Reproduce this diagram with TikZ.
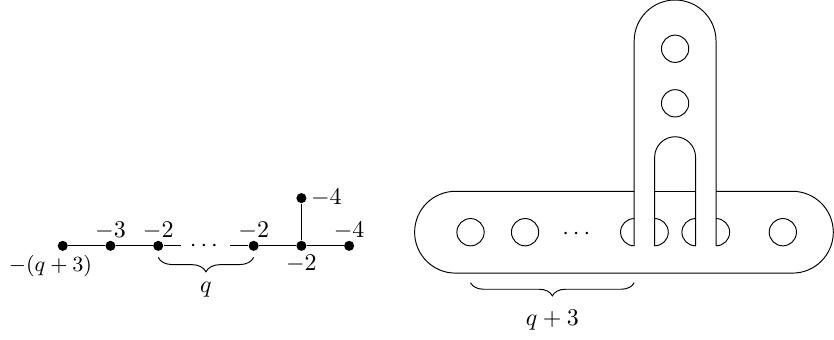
\documentclass[tikz,border=0pt]{standalone}
\usepackage{amsmath,amssymb}
\usetikzlibrary{positioning,decorations.pathreplacing}

\begin{document}
\begin{tikzpicture}[scale=1.0, node distance=0.7cm, on grid,
    vertex/.style={circle, fill, inner sep=0pt, minimum size=4.2pt},
    every label/.append style={inner sep=1.5pt}]
  \useasboundingbox (0,0) rectangle (12.23,4.985);
  % plumbing graph
  \node[vertex, label={[font=\small, xshift=-0.18cm]below:$-(q+3)$}] (n1) at (0.92,1.38) {};
  \node[vertex, label={[yshift=-1.5pt]above:$-3$}, right=of n1] (n2) {};
  \node[vertex, label={[yshift=-1.5pt]above:$-2$}, right=of n2] (n3) {};
  \node[right=of n3] (dots) {$\cdots$};
  \node[vertex, label={[yshift=-1.5pt]above:$-2$}, right=of dots] (n4) {};
  \node[vertex, label=below:$-2$, right=of n4] (n5) {};
  \node[vertex, label={[yshift=-1.5pt]above:$-4$}, right=of n5] (n6) {};
  \node[vertex, label=right:$-4$, above=of n5] (n7) {};
  \draw (n1) -- (n2) -- (n3) -- (dots) -- (n4) -- (n5) -- (n6);
  \draw (n5) -- (n7);
  \draw[decorate, decoration={brace, mirror, amplitude=6pt}]
        ([yshift=-0.17cm]n3.center) -- ([yshift=-0.17cm]n4.center)
        node[midway, below=7pt] {$q$};
  % horizontal handle, top edge broken by the vertical band
  \draw (9.3,2.18) -- (6.68,2.18) arc[start angle=90, end angle=270, radius=0.6]
        -- (11.62,0.98) arc[start angle=-90, end angle=90, radius=0.6] -- (10.5,2.18);
  \draw (9.6,2.18) -- (10.2,2.18);
  % vertical band
  \draw (9.3,1.38) -- (9.3,4.385) arc[start angle=180, end angle=0, radius=0.6] -- (10.5,1.38);
  \draw (9.6,1.38) -- (9.6,2.68) arc[start angle=180, end angle=0, radius=0.3] -- (10.2,1.38);
  % half discs where the band meets the handle
  \draw (9.3,1.78) arc[start angle=90, end angle=270, radius=0.2];
  \draw (9.6,1.38) arc[start angle=-90, end angle=90, radius=0.2];
  \draw (10.2,1.78) arc[start angle=90, end angle=270, radius=0.2];
  \draw (10.5,1.38) arc[start angle=-90, end angle=90, radius=0.2];
  % holes
  \foreach \x in {6.9,7.7,11.48} \draw (\x,1.58) circle[radius=0.2];
  \foreach \y in {4.27,3.47} \draw (9.9,\y) circle[radius=0.2];
  \node (hdots) at (8.48,1.55) {$\cdots$};
  \draw[decorate, decoration={brace, mirror, amplitude=5.5pt}]
        (6.9,0.84) -- (9.3,0.84) node[midway, below=8pt] {$q+3$};
\end{tikzpicture}
\end{document}
